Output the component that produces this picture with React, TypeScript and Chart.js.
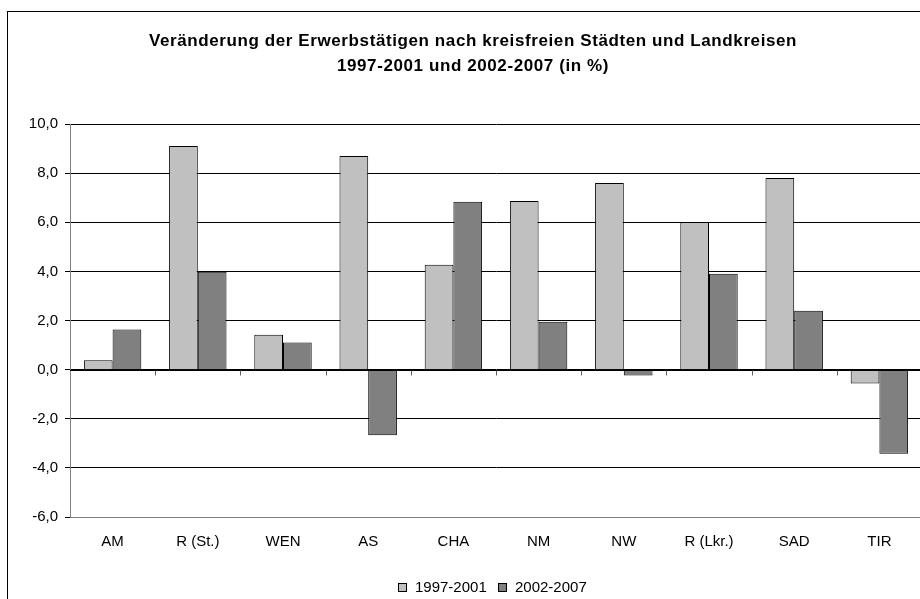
import React, { useEffect, useRef } from "react";
import { Chart, registerables } from "chart.js";

Chart.register(...registerables);

const categories = ["AM", "R (St.)", "WEN", "AS", "CHA", "NM", "NW", "R (Lkr.)", "SAD", "TIR"];
const series1997 = [0.38, 9.1, 1.42, 8.7, 4.27, 6.87, 7.6, 6.0, 7.8, -0.56];
const series2002 = [1.63, 3.98, 1.1, -2.67, 6.83, 1.95, -0.24, 3.9, 2.4, -3.42];
const seriesLabels = ["1997-2001", "2002-2007"];
const seriesColors = ["#C0C0C0", "#808080"];
const yMin = -6;
const yMax = 10;
const yStep = 2;
const titleLines = [
  "Veränderung der Erwerbstätigen nach kreisfreien Städten und Landkreisen",
  "1997-2001 und 2002-2007 (in %)",
];

const FONT = "'Liberation Sans', Arial, sans-serif";
const W = 940;
const H = 610;

const decor = {
  id: "decor",
  beforeDraw(chart: any) {
    const ctx = chart.ctx;
    ctx.save();
    ctx.fillStyle = "#fff";
    ctx.fillRect(0, 0, chart.width, chart.height);
    ctx.strokeStyle = "#000";
    ctx.lineWidth = 1;
    ctx.strokeRect(7.5, 11.5, 932, 620);
    ctx.fillStyle = "#000";
    ctx.textAlign = "center";
    ctx.textBaseline = "alphabetic";
    ctx.font = `bold 17px ${FONT}`;
    try {
      (ctx as any).letterSpacing = "0.6px";
    } catch (e) {}
    ctx.fillText(titleLines[0], 473, 46);
    ctx.fillText(titleLines[1], 473, 71);
    try {
      (ctx as any).letterSpacing = "0px";
    } catch (e) {}
    // legend
    ctx.font = `15px ${FONT}`;
    ctx.textAlign = "left";
    ctx.textBaseline = "middle";
    const xs = [398, 498];
    chart.data.datasets.forEach((ds: any, i: number) => {
      const x = xs[i];
      ctx.fillStyle = ds.backgroundColor;
      ctx.fillRect(x + 0.5, 583.5, 8, 8);
      ctx.strokeStyle = "#000";
      ctx.strokeRect(x + 0.5, 583.5, 8, 8);
      ctx.fillStyle = "#000";
      ctx.fillText(ds.label, x + 17, 588);
    });
    ctx.restore();
  },
  afterDatasetsDraw(chart: any) {
    const ctx = chart.ctx;
    const xs = chart.scales.x;
    const ys = chart.scales.y;
    const y0 = Math.round(ys.getPixelForValue(0)) + 0.5;
    ctx.save();
    ctx.strokeStyle = "#000";
    ctx.lineWidth = 1;
    ctx.beginPath();
    ctx.moveTo(chart.chartArea.left, y0);
    ctx.lineTo(chart.chartArea.right, y0);
    ctx.stroke();
    ctx.strokeStyle = "#606060";
    ctx.beginPath();
    for (let i = 1; i <= categories.length; i++) {
      const x = Math.round(xs.getPixelForValue(i - 0.5)) + 0.5;
      ctx.moveTo(x, y0);
      ctx.lineTo(x, y0 + 5);
    }
    ctx.stroke();
    ctx.restore();
  },
};

export default function App() {
  const ref = useRef<HTMLCanvasElement>(null);
  useEffect(() => {
    if (!ref.current) return;
    const chart = new Chart(ref.current, {
      type: "bar",
      data: {
        labels: categories,
        datasets: [
          {
            label: seriesLabels[0],
            data: series1997,
            backgroundColor: seriesColors[0],
            borderColor: "#000",
            borderWidth: 1,
            categoryPercentage: 0.674,
            barPercentage: 1,
          },
          {
            label: seriesLabels[1],
            data: series2002,
            backgroundColor: seriesColors[1],
            borderColor: "#000",
            borderWidth: 1,
            categoryPercentage: 0.674,
            barPercentage: 1,
          },
        ],
      },
      options: {
        animation: false,
        responsive: false,
        devicePixelRatio: 1,
        layout: { padding: { left: 0, right: W - 922, top: 124, bottom: H - 517 - 40 } },
        plugins: {
          legend: { display: false },
          title: { display: false },
          tooltip: { enabled: false },
        },
        scales: {
          x: {
            grid: { display: false, drawTicks: false },
            border: { display: true, color: "#808080" },
            ticks: { color: "#000", font: { family: FONT, size: 15 }, padding: 16, maxRotation: 0, autoSkip: false },
            afterFit(scale: any) {
              scale.height = 40;
            },
          },
          y: {
            min: yMin,
            max: yMax,
            grid: {
              color: (c: any) => (c.tick && c.tick.value === yMin ? "#808080" : "#000"),
              tickColor: "#000",
              tickLength: 5,
            },
            border: { display: true, color: "#808080" },
            ticks: {
              stepSize: yStep,
              color: "#000",
              padding: 7,
              font: { family: FONT, size: 15 },
              callback: (v: any) => Number(v).toFixed(1).replace(".", ","),
            },
            afterFit(scale: any) {
              scale.width = 70;
            },
          },
        },
      },
      plugins: [decor],
    });
    return () => chart.destroy();
  }, []);
  return (
    <div style={{ position: "fixed", left: 0, top: 0, width: 920, height: 599, overflow: "hidden", background: "#fff" }}>
      <canvas ref={ref} width={W} height={H} style={{ display: "block", width: W, height: H }} />
    </div>
  );
}
